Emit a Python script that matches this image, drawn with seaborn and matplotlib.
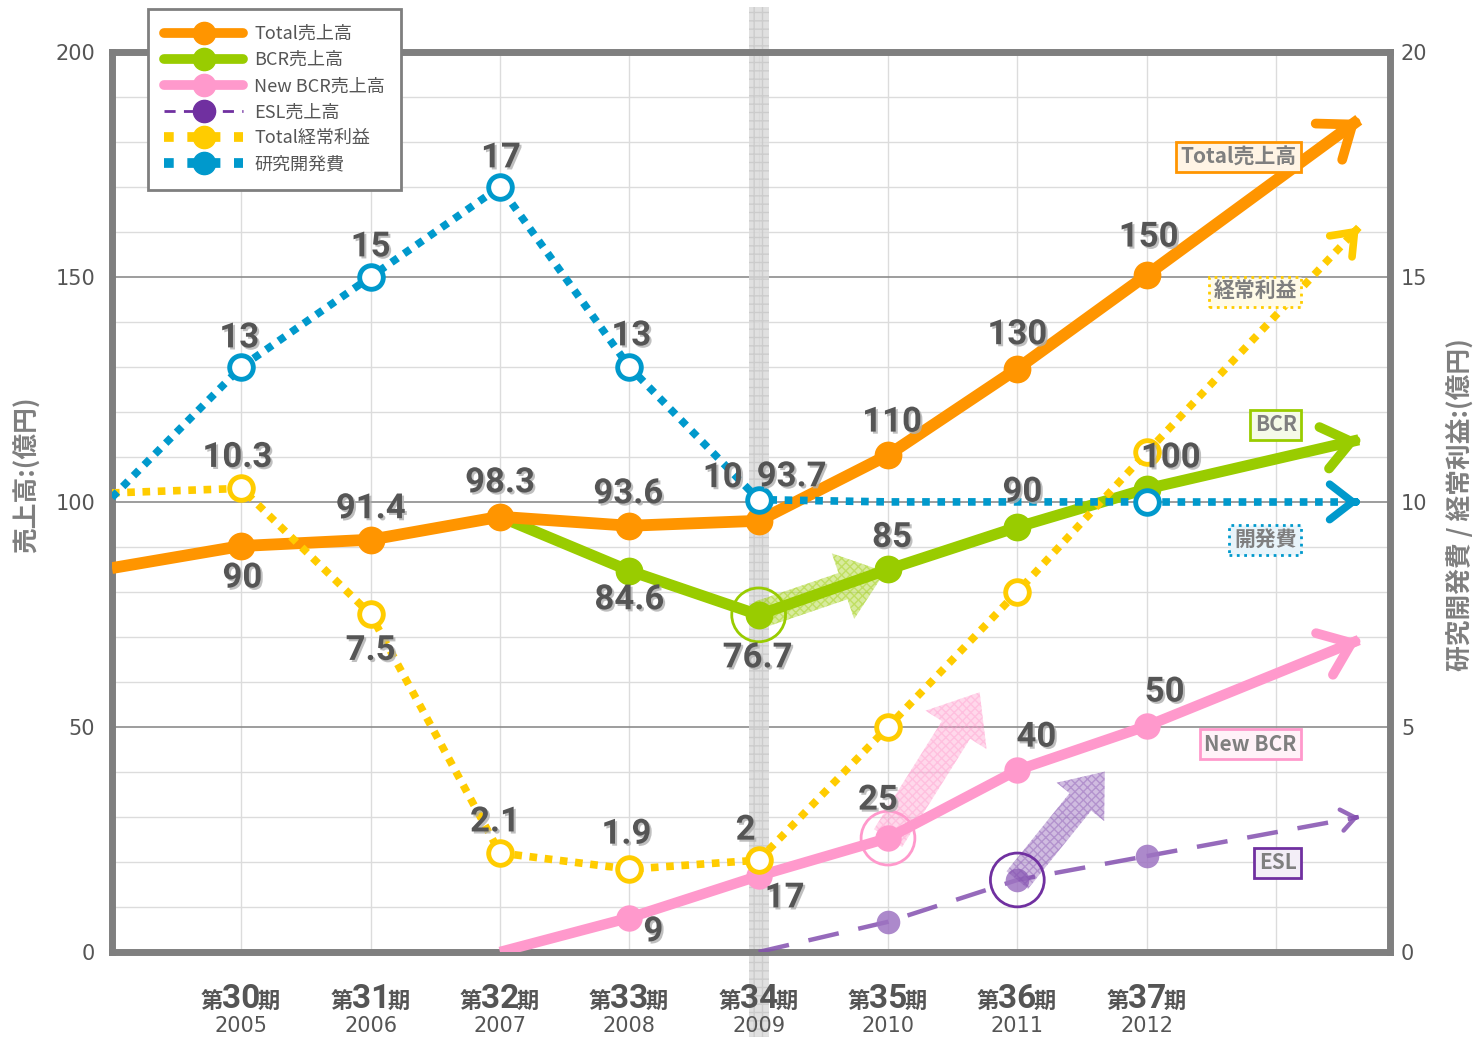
import matplotlib
matplotlib.use("Agg")
import matplotlib.pyplot as plt
import matplotlib.patheffects as pe
from matplotlib.lines import Line2D
from matplotlib.ticker import MultipleLocator
from matplotlib.transforms import offset_copy
import seaborn as sns

# ---- data -------------------------------------------------------------
years = [2004, 2005, 2006, 2007, 2008, 2009, 2010, 2011, 2012]
tick_years = [2005, 2006, 2007, 2008, 2009, 2010, 2011, 2012]
term_numbers = ["30", "31", "32", "33", "34", "35", "36", "37"]

total_sales = [85.3, 90.2, 91.6, 96.7, 94.7, 95.8, 110.4, 129.6, 150.4]
total_labels = ["", "90", "91.4", "98.3", "93.6", "93.7", "110", "130", "150"]

bcr_years = [2007, 2008, 2009, 2010, 2011, 2012]
bcr_sales = [96.7, 84.7, 74.9, 85.0, 94.4, 102.9]
bcr_labels = ["", "84.6", "76.7", "85", "90", "100"]

newbcr_years = [2007, 2008, 2009, 2010, 2011, 2012]
newbcr_sales = [0.0, 7.6, 16.9, 25.3, 40.4, 50.2]
newbcr_labels = ["", "9", "17", "25", "40", "50"]

esl_years = [2009, 2010, 2011, 2012]
esl_sales = [0.0, 6.7, 16.0, 21.3]

profit = [10.2, 10.3, 7.5, 2.2, 1.84, 2.04, 5.0, 8.0, 11.1]
profit_labels = ["", "10.3", "7.5", "2.1", "1.9", "2", "", "", ""]

rd_cost = [10.1, 13.0, 15.0, 17.0, 13.0, 10.05, 10.0, 10.0, 10.0]
rd_labels = ["", "13", "15", "17", "13", "10", "", "", ""]

# where the trend arrows end up
trend_year = 2013.64
total_trend = 184.9
bcr_trend = 113.8
newbcr_trend = 69.3
esl_trend = 30.0
profit_trend = 16.1
rd_trend = 10.0

# ---- style ------------------------------------------------------------
ORANGE = "#FF9500"
GREEN = "#99CC00"
PINK = "#FF99CC"
PURPLE = "#7030A0"
ESL_C = "#8450B0"
YELLOW = "#FFCC00"
BLUE = "#0099CC"
TXT = "#555555"
SPINE = "#7f7f7f"
PX = 0.72  # pixel -> point at 100 dpi

sns.set_theme(style="white")
plt.rcParams["font.family"] = ["Noto Sans CJK JP", "DejaVu Sans"]
NUM_FONT = ["Roboto", "Noto Sans CJK JP"]

fig = plt.figure(figsize=(14.79, 10.37), dpi=100)
ax = fig.add_axes([0.0757, 0.082, 0.864, 0.868])
ax2 = ax.twinx()

ax.set_xlim(2004, 2013.88)
ax.set_ylim(0, 200)
ax2.set_ylim(0, 20)

ax.set_xticks(tick_years + [2013])
ax.set_xticklabels([])
ax.yaxis.set_major_locator(MultipleLocator(50))
ax.yaxis.set_minor_locator(MultipleLocator(10))
ax2.yaxis.set_major_locator(MultipleLocator(5))
ax.set_axisbelow(True)
ax.grid(axis="y", which="minor", color="#dcdcdc", lw=1)
ax.grid(axis="y", which="major", color="#8c8c8c", lw=1.2)
ax.grid(axis="x", which="major", color="#dcdcdc", lw=1)
ax.tick_params(axis="both", which="both", length=0)
ax.tick_params(axis="y", labelsize=15, labelcolor=TXT, pad=12)
ax2.tick_params(axis="y", length=0, labelsize=15, labelcolor=TXT, pad=8)
for lab in ax.get_yticklabels() + ax2.get_yticklabels():
    lab.set_family("DejaVu Sans")

for s in ax.spines.values():
    s.set_linewidth(5)
    s.set_color(SPINE)
for s in ax2.spines.values():
    s.set_visible(False)

ax.set_ylabel("売上高:(億円)", fontsize=18.5, color=SPINE, fontweight="bold")
ax.yaxis.set_label_coords(-0.0556, 0.53)
ax2.set_ylabel("研究開発費 / 経常利益:(億円)", fontsize=18.5, color=SPINE,
               fontweight="bold", rotation=90)
ax2.yaxis.set_label_coords(1.044, 0.497)

# highlighted fiscal year band
ax.axvspan(2008.922, 2009.078, ymin=-0.095, ymax=1.05, clip_on=False,
           facecolor="#d9d9d9", edgecolor="#c8c8c8", hatch="++", lw=0,
           alpha=0.8, zorder=1)


def draw_series(axis, xs, ys, color, lw, ls, mevery, mfc, msize, mew,
                tip, head, alpha=1.0, z=3):
    sns.lineplot(x=xs, y=ys, ax=axis, color=color, linewidth=lw,
                 linestyle=ls, marker="o", markevery=mevery,
                 markersize=msize, markerfacecolor=mfc,
                 markeredgecolor=color, markeredgewidth=mew,
                 alpha=alpha, zorder=z, solid_capstyle="butt",
                 dash_capstyle="butt")
    axis.plot([xs[-1], trend_year], [ys[-1], tip], color=color, lw=lw,
              linestyle=ls, alpha=alpha, zorder=z - 0.1,
              solid_capstyle="butt", dash_capstyle="butt")
    fx = xs[-1] + 0.985 * (trend_year - xs[-1])
    fy = ys[-1] + 0.985 * (tip - ys[-1])
    axis.annotate("", xy=(trend_year, tip), xytext=(fx, fy),
                  arrowprops=dict(arrowstyle="->,head_length=1.1,head_width=0.85",
                                  mutation_scale=head, color=color,
                                  lw=min(lw, 7), shrinkA=0, shrinkB=0,
                                  capstyle="round", joinstyle="round",
                                  alpha=alpha),
                  zorder=z)


def draw_labels(xs, ys, labels, offsets, trans):
    # all labels live on the top axes so they sit above every line
    for x, y, t, off in zip(xs, ys, labels, offsets):
        if not t:
            continue
        ax2.annotate(t, (x, y), xycoords=trans,
                     xytext=(off[0] * PX, off[1] * PX),
                     textcoords="offset points", ha="center", va="center",
                     fontsize=25, fontweight="bold", color=TXT,
                     family=NUM_FONT, zorder=8,
                     path_effects=[pe.withSimplePatchShadow(
                         offset=(1.5, -1.5), shadow_rgbFace="#b0b0b0",
                         alpha=0.8)])


# left-axis series
draw_series(ax, esl_years, esl_sales, ESL_C, 3.2, (0, (7, 4.5)), [1, 2, 3],
            "#9E74C2", 17, 0, esl_trend, 9, alpha=0.85, z=3)
draw_series(ax, newbcr_years, newbcr_sales, PINK, 7.5, "-", [1, 2, 3, 4, 5],
            PINK, 19, 0, newbcr_trend, 19, z=4)
draw_series(ax, bcr_years, bcr_sales, GREEN, 8, "-", [1, 2, 3, 4, 5],
            GREEN, 20, 0, bcr_trend, 18, z=5)
draw_series(ax, years, total_sales, ORANGE, 8.5, "-", list(range(1, 9)),
            ORANGE, 20, 0, total_trend, 19, z=6)

# right-axis series
draw_series(ax2, years, profit, YELLOW, 5.5, (0, (1, 1)), list(range(1, 9)),
            "white", 17, 3.5, profit_trend, 13, z=3)
draw_series(ax2, years, rd_cost, BLUE, 5.5, (0, (1, 1)), [1, 2, 3, 4, 5, 8],
            "white", 17, 3.5, rd_trend, 15, z=4)

# highlight rings
ax.scatter([bcr_years[2]], [bcr_sales[2]], s=1500, facecolors="none",
           edgecolors=GREEN, lw=2, zorder=7)
ax.scatter([newbcr_years[3]], [newbcr_sales[3]], s=1500, facecolors="none",
           edgecolors=PINK, lw=2, zorder=7)
ax.scatter([esl_years[2]], [esl_sales[2]], s=1500, facecolors="none",
           edgecolors=PURPLE, lw=2, zorder=7)

# fat "growth" arrows (tail at a data point, tip offset in points)
growth = [
    (bcr_years[2], bcr_sales[2], (91, 31), GREEN, 2.0, 5.0, 3.2),
    (newbcr_years[3], newbcr_sales[3], (66, 105), PINK, 2.4, 5.2, 3.2),
    (esl_years[2], esl_sales[2], (63, 78), ESL_C, 2.0, 4.4, 2.8),
]
for x0, y0, (dx, dy), c, tw, hw, hl in growth:
    tr = offset_copy(ax.transData, fig=fig, x=dx, y=dy, units="points")
    ax.annotate("", xy=(x0, y0), xycoords=tr, xytext=(x0, y0),
                textcoords="data",
                arrowprops=dict(arrowstyle=f"simple,head_length={hl},head_width={hw},tail_width={tw}",
                                mutation_scale=10, fc=c, ec=c, lw=0,
                                hatch="xxxx", alpha=0.38,
                                shrinkA=0, shrinkB=0),
                zorder=4.5)

# value labels
draw_labels(years, total_sales, total_labels,
            [(0, 0), (1, -32), (0, 31), (0, 34), (-1, 32), (33, 44),
             (4, 33), (0, 34), (2, 38)], ax.transData)
draw_labels(bcr_years, bcr_sales, bcr_labels,
            [(0, 0), (0, -29), (-1, -43), (4, 32), (5, 35), (24, 31)],
            ax.transData)
draw_labels(newbcr_years, newbcr_sales, newbcr_labels,
            [(0, 0), (24, -14), (26, -22), (-10, 38), (19, 33), (18, 34)],
            ax.transData)
draw_labels(years, profit, profit_labels,
            [(0, 0), (-4, 31), (0, -36), (-5, 31), (-3, 35), (-13, 30),
             (0, 0), (0, 0), (0, 0)], ax2.transData)
draw_labels(years, rd_cost, rd_labels,
            [(0, 0), (-2, 29), (0, 30), (1, 29), (2, 31), (-36, 22),
             (0, 0), (0, 0), (0, 0)], ax2.transData)

# series tags on the right
tags = [
    ("Total売上高", 176.7, ORANGE, "#fff4e5", "-"),
    ("経常利益", 146.7, YELLOW, "#fffbe8", ":"),
    ("BCR", 117.1, GREEN, "#f5fae8", "-"),
    ("開発費", 91.6, BLUE, "#e8f4fa", ":"),
    ("New BCR", 46.2, PINK, "#fff2f8", "-"),
    ("ESL", 19.8, PURPLE, "#f3eef7", "-"),
]
for t, y, ec, fc, ls in tags:
    ax2.text(2013.16, y, t, transform=ax.transData, ha="right", va="center",
             fontsize=15, fontweight="bold", color=SPINE, zorder=9,
             bbox=dict(boxstyle="square,pad=0.22", fc=fc, ec=ec, lw=2,
                       linestyle=ls))

# x tick labels: 第NN期 / year
for yr, num in zip(tick_years, term_numbers):
    ax.annotate(num, (yr, 0), xycoords=("data", "axes fraction"),
                xytext=(0, -40), textcoords="offset points", ha="center",
                va="baseline", fontsize=24, fontweight="bold", color=TXT,
                family=NUM_FONT, annotation_clip=False)
    ax.annotate("第", (yr, 0), xycoords=("data", "axes fraction"),
                xytext=(-13, -40), textcoords="offset points", ha="right",
                va="baseline", fontsize=16, fontweight="bold", color=TXT,
                annotation_clip=False)
    ax.annotate("期", (yr, 0), xycoords=("data", "axes fraction"),
                xytext=(12, -40), textcoords="offset points", ha="left",
                va="baseline", fontsize=16, fontweight="bold", color=TXT,
                annotation_clip=False)
    ax.annotate(str(yr), (yr, 0), xycoords=("data", "axes fraction"),
                xytext=(0, -53), textcoords="offset points", ha="center",
                va="center", fontsize=15, color=TXT, family="DejaVu Sans",
                annotation_clip=False)

# legend
handles = [
    Line2D([], [], color=ORANGE, lw=7, marker="o", markersize=16),
    Line2D([], [], color=GREEN, lw=7, marker="o", markersize=16),
    Line2D([], [], color=PINK, lw=7, marker="o", markersize=16),
    Line2D([], [], color=PURPLE, lw=2, ls=(0, (4, 3)), marker="o",
           markersize=16),
    Line2D([], [], color=YELLOW, lw=7, ls=(0, (1, 1.4)), marker="o",
           markersize=16),
    Line2D([], [], color=BLUE, lw=7, ls=(0, (1, 1.4)), marker="o",
           markersize=16),
]
names = ["Total売上高", "BCR売上高", "New BCR売上高", "ESL売上高",
         "Total経常利益", "研究開発費"]
leg = ax2.legend(handles, names, loc="upper left",
                 bbox_to_anchor=(0.028, 1.048), borderaxespad=0,
                 fontsize=13, frameon=True, fancybox=False, edgecolor=SPINE,
                 framealpha=1, handlelength=4.4, handletextpad=0.6,
                 labelspacing=0.45, borderpad=0.9)
leg.get_frame().set_linewidth(2)
leg.set_zorder(20)
for t in leg.get_texts():
    t.set_color(TXT)

fig.savefig("out.png", dpi=100)
